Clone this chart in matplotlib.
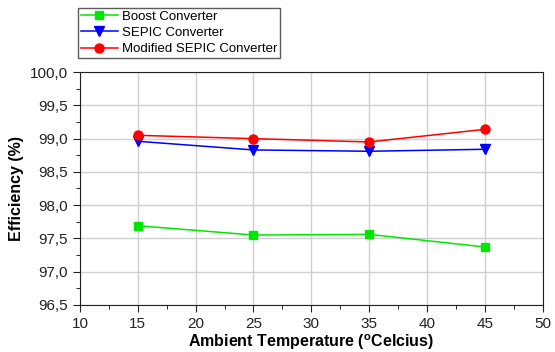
import matplotlib
matplotlib.use("Agg")
import matplotlib.pyplot as plt
from matplotlib.ticker import MultipleLocator, FuncFormatter

plt.rcParams['font.family'] = ['Liberation Sans', 'DejaVu Sans']

# ambient temperature (deg C)
temps = [15, 25, 35, 45]

# efficiency (%)
boost = [97.69, 97.55, 97.56, 97.37]
sepic = [98.96, 98.83, 98.81, 98.84]
mod_sepic = [99.05, 99.00, 98.95, 99.14]

fig = plt.figure(figsize=(5.55, 3.52), dpi=100)
ax = fig.add_axes([0.144, 0.134, 0.834, 0.661])

ax.plot(temps, boost, color='#00e600', marker='s', markersize=5.5, lw=1.1,
        label='Boost Converter')
ax.plot(temps, sepic, color='#0000ff', marker='v', markersize=6.5, lw=1.1,
        label='SEPIC Converter')
ax.plot(temps, mod_sepic, color='#ff0000', marker='o', markersize=6.5, lw=1.1,
        label='Modified SEPIC Converter')

ax.set_xlim(10, 50)
ax.set_ylim(96.5, 100.0)
ax.xaxis.set_major_locator(MultipleLocator(5))
ax.xaxis.set_minor_locator(MultipleLocator(2.5))
ax.yaxis.set_major_locator(MultipleLocator(0.5))
ax.yaxis.set_minor_locator(MultipleLocator(0.25))
ax.yaxis.set_major_formatter(FuncFormatter(lambda v, p: f"{v:.1f}".replace('.', ',')))
ax.grid(True, which='major', color='#d0d0d0', lw=1)
ax.set_axisbelow(True)

ax.tick_params(which='major', direction='out', length=5, labelsize=11, colors='#222222',
               top=False, right=False)
ax.tick_params(which='minor', direction='out', length=3, top=False, right=False)
for s in ax.spines.values():
    s.set_color('#222222')

ax.set_xlabel('Ambient Temperature ($\\mathregular{^{o}}$Celcius)', fontsize=11.5,
              fontweight='bold', labelpad=1)
ax.set_ylabel('Efficiency (%)', fontsize=11.5, fontweight='bold', labelpad=4)

leg = fig.legend(loc='upper left', bbox_to_anchor=(78 / 555, 1 - 8 / 352), fontsize=9.5,
                 frameon=True, fancybox=False, edgecolor='#333333', borderpad=0.2,
                 labelspacing=0.3, handlelength=2.8, handletextpad=0.3,
                 borderaxespad=0)
leg.get_frame().set_linewidth(1)

fig.savefig('out.png', dpi=100)
